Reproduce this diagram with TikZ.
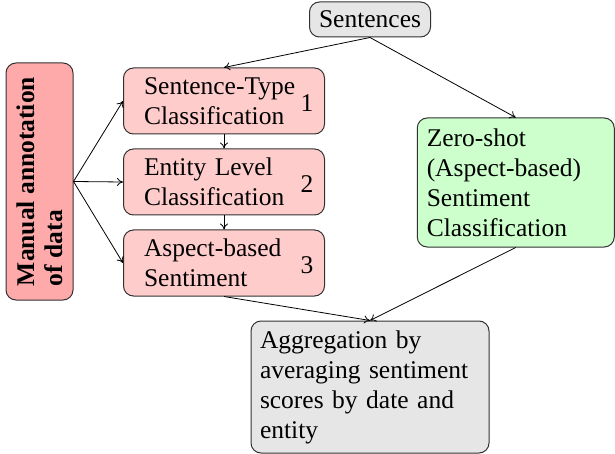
\documentclass[tikz,border=0pt]{standalone}
\usepackage{fontspec}
\setmainfont{LiberationSerif}[Extension=.ttf, UprightFont=*-Regular, BoldFont=*-Bold]
\usetikzlibrary{arrows.meta}
\definecolor{stagered}{RGB}{255,204,204}
\definecolor{manualred}{RGB}{255,170,170}
\definecolor{zsgreen}{RGB}{204,255,204}
\definecolor{boxgray}{RGB}{230,230,230}
\definecolor{edgegray}{RGB}{50,50,50}
\tikzset{
  txt/.style={font=\rmfamily\fontsize{12.75}{15}\selectfont},
  basebox/.style={txt, draw=edgegray, line width=0.5pt, rounded corners=5pt,
    inner xsep=4.5pt, inner ysep=0pt, align=left},
  stagebox/.style={basebox, fill=stagered, minimum width=100.5pt,
    minimum height=33pt, text width=80pt, inner xsep=4.5pt},
  num/.style={txt, inner sep=0pt},
  conn/.style={-{To[length=3pt,width=4pt]}, line width=0.4pt},
}
\begin{document}
\begin{tikzpicture}[x=0.5pt, y=-0.5pt]
  \useasboundingbox (0,0) rectangle (615,454);

  % source and manual annotation
  \node[basebox, fill=boxgray, minimum width=60.5pt, minimum height=17.5pt, inner xsep=3pt]
    (sent) at (370,19.5) {Sentences};
  \node[basebox, fill=manualred, rotate=90, minimum width=118.5pt,
    minimum height=33.5pt, font=\rmfamily\fontsize{12.75}{14}\selectfont\bfseries]
    (man) at (39.5,181.5) {Manual annotation\\of data};

  % three supervised stages
  \node[stagebox, anchor=west] (s1) at (123,101) {Sentence-Type\\Classification};
  \node[stagebox, anchor=west] (s2) at (123,182) {Entity Level\\Classification};
  \node[stagebox, anchor=west] (s3) at (123,263) {Aspect-based\\Sentiment};
  \node[num] (n1) at (307,103) {1};
  \node[num] (n2) at (307,184) {2};
  \node[num] (n3) at (307,265) {3};

  % zero-shot branch and aggregation
  \node[basebox, fill=zsgreen, minimum width=98.5pt, minimum height=64.5pt,
    text width=89pt, inner xsep=4pt] (zs) at (515.75,182.5)
    {Zero-shot\\(Aspect-based)\\Sentiment\\Classification};
  \node[basebox, fill=boxgray, minimum width=119pt, minimum height=66pt,
    text width=110pt] (agg) at (370,387)
    {Aggregation by\\averaging sentiment\\scores by date and\\entity};

  % connectors
  \draw[conn] (sent.south) -- (s1.north);
  \draw[conn] (sent.south) -- (zs.north);
  \draw[conn] (s1.south) -- (s2.north);
  \draw[conn] (s2.south) -- (s3.north);
  \draw[conn] (man.south) -- (s1.west);
  \draw[conn] (man.south) -- (s2.west);
  \draw[conn] (man.south) -- (s3.west);
  \draw[conn] (s3.south) -- (agg.north);
  \draw[conn] (zs.south) -- (agg.north);
\end{tikzpicture}
\end{document}
